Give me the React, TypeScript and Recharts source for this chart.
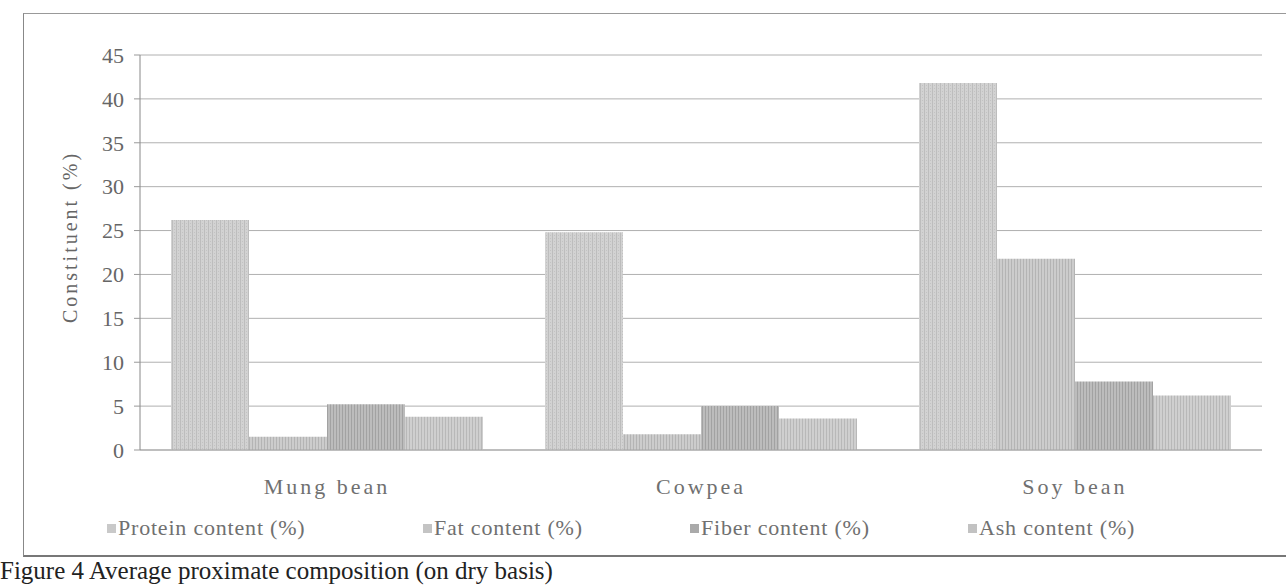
import { BarChart, Bar, XAxis, YAxis, CartesianGrid, Legend } from "recharts";

const beans = ["Mung bean", "Cowpea", "Soy bean"];
const protein = [26.2, 24.8, 41.8];
const fat = [1.5, 1.8, 21.8];
const fiber = [5.2, 5.0, 7.8];
const ash = [3.8, 3.6, 6.2];
const yTicks = [0, 5, 10, 15, 20, 25, 30, 35, 40, 45];

const seriesList = [
  { key: "protein", name: "Protein content (%)", fill: "url(#pProtein)", swatch: "#c9c9c9" },
  { key: "fat", name: "Fat content (%)", fill: "url(#pFat)", swatch: "#c4c4c4" },
  { key: "fiber", name: "Fiber content (%)", fill: "url(#pFiber)", swatch: "#aaaaaa" },
  { key: "ash", name: "Ash content (%)", fill: "url(#pAsh)", swatch: "#c2c2c2" },
];

const data = beans.map((b, i) => ({
  bean: b,
  protein: protein[i],
  fat: fat[i],
  fiber: fiber[i],
  ash: ash[i],
}));

const serif = "Liberation Serif, DejaVu Serif, serif";
const legendX = [107, 423, 690, 968];

function renderLegend() {
  return (
    <div style={{ position: "relative", width: 1287, height: 30 }}>
      {seriesList.map((s, i) => (
        <div
          key={s.key}
          style={{
            position: "absolute",
            left: legendX[i],
            top: 0,
            display: "flex",
            alignItems: "center",
            fontFamily: serif,
            fontSize: 22,
            letterSpacing: 0.8,
            color: "#707070",
            whiteSpace: "nowrap",
          }}
        >
          <span style={{ display: "inline-block", width: 9, height: 9, background: s.swatch, marginRight: 2 }} />
          {s.name}
        </div>
      ))}
    </div>
  );
}

// rotated axis title, placed where the scan has it
function YTitle() {
  return (
    <text
      x={70}
      y={237}
      transform="rotate(-90 70 237)"
      textAnchor="middle"
      dominantBaseline="central"
      fontFamily={serif}
      fontSize={20}
      letterSpacing={3}
      fill="#666"
    >
      Constituent (%)
    </text>
  );
}

export default function App() {
  return (
    <div style={{ position: "absolute", left: 0, top: 0, width: 1287, height: 585, background: "#fff", overflow: "hidden" }}>
      <svg width={0} height={0} style={{ position: "absolute" }}>
        <defs>
          <pattern id="pProtein" patternUnits="userSpaceOnUse" width={4} height={3}>
            <rect width={4} height={3} fill="#d2d2d2" />
            <rect x={0} width={1} height={3} fill="#bdbdbd" />
            <rect x={2} y={1} width={1} height={1} fill="#c2c2c2" />
          </pattern>
          <pattern id="pFat" patternUnits="userSpaceOnUse" width={3} height={4}>
            <rect width={3} height={4} fill="#cccccc" />
            <rect x={0} width={1} height={4} fill="#b4b4b4" />
          </pattern>
          <pattern id="pFiber" patternUnits="userSpaceOnUse" width={3} height={4}>
            <rect width={3} height={4} fill="#bcbcbc" />
            <rect x={0} width={1} height={4} fill="#a2a2a2" />
          </pattern>
          <pattern id="pAsh" patternUnits="userSpaceOnUse" width={3} height={4}>
            <rect width={3} height={4} fill="#cfcfcf" />
            <rect x={1} width={1} height={4} fill="#b8b8b8" />
          </pattern>
        </defs>
      </svg>

      {/* frame round the figure */}
      <div
        style={{
          position: "absolute",
          left: 23,
          top: 13,
          width: 1262,
          height: 541,
          borderTop: "1px solid #999",
          borderLeft: "1px solid #888",
          borderBottom: "2px solid #777",
        }}
      />

      <div style={{ position: "absolute", left: 0, top: 0 }}>
        <BarChart
          width={1287}
          height={585}
          data={data}
          margin={{ top: 55, right: 25, left: 0, bottom: 65 }}
          barCategoryGap={31}
          barGap={0}
        >
          <CartesianGrid vertical={false} stroke="#b0b0b0" />
          <XAxis
            dataKey="bean"
            height={40}
            tickLine={false}
            axisLine={{ stroke: "#a5a5a5" }}
            tickMargin={22}
            tick={{ fontFamily: serif, fontSize: 22, fill: "#707070", letterSpacing: 3 }}
          />
          <YAxis
            width={140}
            domain={[0, 45]}
            ticks={yTicks}
            interval={0}
            tickSize={6}
            tickMargin={10}
            tickLine={{ stroke: "#999" }}
            axisLine={{ stroke: "#888" }}
            tick={{ fontFamily: serif, fontSize: 22, fill: "#666" }}
            label={{ content: () => <YTitle /> }}
          />
          <Legend content={renderLegend} wrapperStyle={{ left: 0, top: 515, width: 1287 }} />
          {seriesList.map((s) => (
            <Bar key={s.key} dataKey={s.key} name={s.name} fill={s.fill} isAnimationActive={false} />
          ))}
        </BarChart>
      </div>

      <div
        style={{
          position: "absolute",
          left: 0,
          top: 558,
          fontFamily: serif,
          fontSize: 25,
          lineHeight: "26px",
          color: "#222",
          whiteSpace: "nowrap",
        }}
      >
        Figure 4 Average proximate composition (on dry basis)
      </div>
    </div>
  );
}
